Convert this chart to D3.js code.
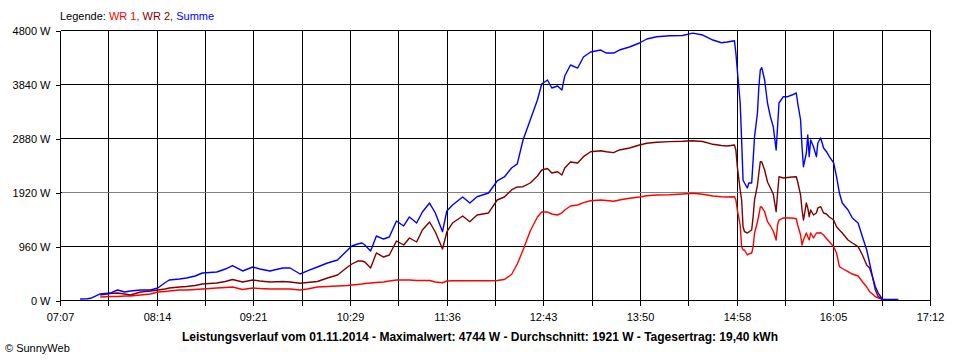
<!DOCTYPE html>
<html lang="de">
<head>
<meta charset="utf-8">
<title>SunnyWeb Leistungsverlauf</title>
<style>
html,body {margin:0; padding:0; background:#fff;}
svg {display:block; font-family:"Liberation Sans", Arial, sans-serif;}
</style>
<script src="https://cdnjs.cloudflare.com/ajax/libs/d3/7.8.5/d3.min.js"></script>
</head>
<body>
<script>
// Leistungsverlauf 01.11.2014, Werte in W
let times = ['07:21','07:26','07:29','07:35','07:42','07:47','07:52','07:56','08:03','08:10',
  '08:15','08:20','08:23','08:30','08:35','08:41','08:46','08:51','08:56','09:02',
  '09:07','09:14','09:21','09:26','09:33','09:42','09:47','09:54','09:59','10:06',
  '10:13','10:20','10:27','10:30','10:34','10:37','10:39','10:43','10:47','10:52',
  '10:56','11:01','11:06','11:10','11:15','11:19','11:24','11:28','11:33','11:36',
  '11:40','11:47','11:52','11:57','12:05','12:11','12:16','12:21','12:25','12:29',
  '12:34','12:39','12:42','12:46','12:49','12:53','12:56','12:58','13:02','13:07',
  '13:11','13:16','13:23','13:27','13:32','13:36','13:43','13:50','13:55','14:02',
  '14:11','14:20','14:27','14:34','14:41','14:47','14:51','14:56','14:57','14:58',
  '15:00','15:01','15:02','15:03','15:05','15:06','15:08','15:09','15:10','15:12',
  '15:13','15:14','15:15','15:17','15:19','15:21','15:23','15:25','15:26','15:27',
  '15:30','15:33','15:36','15:39','15:40','15:42','15:43','15:44','15:46','15:47',
  '15:48','15:49','15:51','15:53','15:54','15:56','15:58','16:00','16:02','16:05',
  '16:07','16:09','16:11','16:15','16:18','16:22','16:25','16:28','16:30','16:32',
  '16:34','16:36','16:39','16:50']

let summe = [18,23,36,107,124,178,142,160,178,178,
  213,307,356,373,391,427,480,489,498,551,
  613,516,587,551,516,569,569,462,516,587,
  658,711,889,960,996,1013,978,871,1138,1084,
  1120,1404,1316,1476,1369,1564,1724,1547,1214,1582,
  1689,1831,1724,1836,1902,2116,2187,2347,2420,2844,
  3200,3556,3840,3911,3769,3804,3733,3982,4178,4124,
  4320,4409,4444,4391,4391,4444,4498,4569,4640,4681,
  4699,4702,4744,4711,4622,4574,4587,4610,4391,4089,
  3502,2844,2133,2080,1991,2080,2080,2489,2903,3324,
  3792,4089,4130,3911,3502,3259,3081,2667,3081,3502,
  3614,3614,3644,3680,3502,3200,2725,2370,2613,2933,
  2548,2844,2725,2548,2791,2880,2702,2636,2548,2436,
  2192,1902,1724,1600,1458,1369,1125,889,658,414,
  236,124,12,12]

let wr2 = [null,null,null,89,116,124,107,89,142,160,
  178,196,213,231,240,258,284,293,302,329,
  364,320,356,338,320,329,320,297,311,329,
  391,444,587,640,693,693,676,569,836,764,
  800,1049,978,1102,1031,1244,1387,1209,907,1209,
  1369,1493,1392,1511,1547,1778,1831,1956,2009,2014,
  2080,2204,2311,2338,2258,2281,2222,2347,2453,2436,
  2548,2636,2654,2636,2619,2667,2702,2756,2786,2804,
  2815,2822,2832,2818,2768,2747,2738,2756,2667,2370,
  1956,1778,1303,1214,1191,1209,1244,1481,1778,2044,
  2258,2459,2453,2311,2098,1991,1884,1570,1902,2192,
  2169,2178,2187,2192,2098,1867,1600,1422,1724,1636,
  1481,1600,1511,1547,1636,1659,1547,1529,1476,1422,
  1303,1244,1191,1067,1013,948,800,622,569,414,
  178,59,12,null]

let wr1 = [null,null,null,53,62,62,71,71,89,107,
  142,151,160,178,178,187,196,204,213,222,
  231,187,213,204,196,196,196,178,196,231,
  240,249,258,267,276,284,293,302,311,320,
  338,356,356,356,347,347,347,320,307,338,
  343,343,343,343,343,347,364,453,640,889,
  1227,1476,1564,1564,1529,1511,1547,1600,1671,1689,
  1730,1765,1778,1769,1755,1778,1808,1831,1854,1867,
  1872,1884,1897,1879,1849,1836,1831,1836,1778,1600,
  1333,948,889,889,800,818,836,948,1191,1387,
  1511,1653,1653,1570,1392,1316,1227,1067,1333,1422,
  1458,1458,1458,1445,1333,1156,978,1067,1191,1125,
  1067,1191,1102,1191,1191,1196,1156,1093,1036,948,
  836,592,560,503,462,427,325,231,148,107,
  59,36,12,null]

let xLabels = ['07:07','08:14','09:21','10:29','11:36','12:43','13:50','14:58','16:05','17:12']
let yTicks = [0, 960, 1920, 2880, 3840, 4800]
let average = 1921
let title = 'Leistungsverlauf vom 01.11.2014 - Maximalwert: 4744 W - Durchschnitt: 1921 W - Tagesertrag: 19,40 kWh'

let W = 960, H = 360
let plot = {left: 60, right: 930, top: 30, bottom: 300}

let parse = d3.timeParse('%H:%M')
let t0 = parse(xLabels[0]), t1 = parse(xLabels[xLabels.length - 1])

let x = d3.scaleTime().domain([t0, t1]).range([plot.left, plot.right])
let y = d3.scaleLinear().domain([0, 4800]).range([plot.bottom, plot.top])

// grid every half label step
let xTickDates = d3.range(19).map(i => new Date(+t0 + i * (t1 - t0) / 18))

let svg = d3.select('body').append('svg').attr('width', W).attr('height', H)
svg.append('rect').attr('width', W).attr('height', H).attr('fill', '#fff')

let grid = svg.append('g').attr('transform', 'translate(0.5,0.5)').attr('shape-rendering', 'crispEdges')
grid.selectAll('line.v').data(xTickDates).join('line')
  .attr('x1', d => Math.round(x(d))).attr('x2', d => Math.round(x(d)))
  .attr('y1', plot.top).attr('y2', plot.bottom)
  .attr('stroke', '#000')
grid.selectAll('line.h').data(yTicks).join('line')
  .attr('x1', plot.left).attr('x2', plot.right)
  .attr('y1', d => Math.round(y(d))).attr('y2', d => Math.round(y(d)))
  .attr('stroke', '#000')
// Durchschnitt
grid.append('line')
  .attr('x1', plot.left + 1).attr('x2', plot.right - 1)
  .attr('y1', Math.round(y(average))).attr('y2', Math.round(y(average)))
  .attr('stroke', '#808080')

// axes (ticks + labels)
let xAxis = d3.axisBottom(x).tickValues(xTickDates).tickSize(5).tickPadding(7.5)
  .tickFormat((d, i) => i % 2 ? '' : xLabels[i / 2])
let gx = svg.append('g').attr('transform', `translate(0.5,${plot.bottom + 0.5})`).call(xAxis)
let yAxis = d3.axisLeft(y).tickValues(yTicks).tickSize(5).tickPadding(5).tickFormat(d => d + ' W')
let gy = svg.append('g').attr('transform', `translate(${plot.left + 0.5},0.5)`).call(yAxis)
for (let g of [gx, gy]) {
  g.select('.domain').remove()
  g.selectAll('line').attr('stroke', '#000').attr('shape-rendering', 'crispEdges')
  g.selectAll('text').attr('font-size', 11).attr('fill', '#000')
    .attr('font-family', '"Liberation Sans", Arial, sans-serif')
}
gx.selectAll('.tick').attr('transform', d => `translate(${Math.round(x(d))},0)`)

// Verlaufslinien
let rows = times.map((t, i) => ({t: parse(t), s: summe[i], a: wr1[i], b: wr2[i]}))
let series = [
  {key: 'a', color: '#ff0000'},
  {key: 'b', color: '#800000'},
  {key: 's', color: '#0000ff'}
]
for (let s of series) {
  let line = d3.line()
    .defined(d => d[s.key] != null)
    .x(d => x(d.t))
    .y(d => y(d[s.key]))
  svg.append('path').datum(rows)
    .attr('d', line)
    .attr('fill', 'none')
    .attr('stroke', s.color)
    .attr('stroke-width', 1.4)
    .attr('stroke-linejoin', 'round')
}

// Legende
let leg = svg.append('text').attr('x', 60).attr('y', 20).attr('font-size', 11)
leg.append('tspan').attr('fill', '#000').text('Legende: ')
leg.append('tspan').attr('fill', '#ff0000').text('WR 1, ')
leg.append('tspan').attr('fill', '#800000').text('WR 2, ')
leg.append('tspan').attr('fill', '#0000ff').text('Summe')

svg.append('text').attr('x', 480).attr('y', 341)
  .attr('text-anchor', 'middle').attr('font-size', 12).attr('font-weight', 'bold')
  .text(title)

svg.append('text').attr('x', 5).attr('y', 352).attr('font-size', 11).text('\u00a9 SunnyWeb')
</script>
</body>
</html>
